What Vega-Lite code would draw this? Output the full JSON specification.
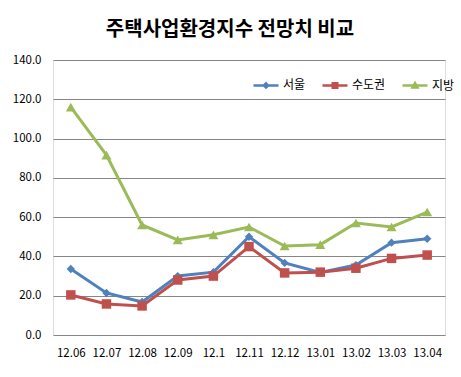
{
  "$schema": "https://vega.github.io/schema/vega-lite/v6.json",
  "autosize": {"type": "none"},
  "width": 392,
  "height": 275,
  "padding": {"left": 53, "top": 60, "right": 16, "bottom": 42},
  "background": "white",
  "title": {
    "text": "주택사업환경지수 전망치 비교",
    "font": "Noto Sans CJK KR",
    "fontSize": 20,
    "fontWeight": "bold",
    "color": "black",
    "anchor": "middle",
    "dx": -19,
    "offset": 14
  },
  "data": {
    "values": [
      {"month": "12.06", "series": "서울", "value": 33.6},
      {"month": "12.07", "series": "서울", "value": 21.4},
      {"month": "12.08", "series": "서울", "value": 16.8},
      {"month": "12.09", "series": "서울", "value": 30.0},
      {"month": "12.1", "series": "서울", "value": 32.0},
      {"month": "12.11", "series": "서울", "value": 50.0},
      {"month": "12.12", "series": "서울", "value": 36.7},
      {"month": "13.01", "series": "서울", "value": 31.8},
      {"month": "13.02", "series": "서울", "value": 35.6},
      {"month": "13.03", "series": "서울", "value": 47.0},
      {"month": "13.04", "series": "서울", "value": 49.0},
      {"month": "12.06", "series": "수도권", "value": 20.4},
      {"month": "12.07", "series": "수도권", "value": 15.8},
      {"month": "12.08", "series": "수도권", "value": 14.8},
      {"month": "12.09", "series": "수도권", "value": 28.0},
      {"month": "12.1", "series": "수도권", "value": 30.0},
      {"month": "12.11", "series": "수도권", "value": 45.0},
      {"month": "12.12", "series": "수도권", "value": 31.6},
      {"month": "13.01", "series": "수도권", "value": 32.0},
      {"month": "13.02", "series": "수도권", "value": 34.0},
      {"month": "13.03", "series": "수도권", "value": 39.0},
      {"month": "13.04", "series": "수도권", "value": 40.7},
      {"month": "12.06", "series": "지방", "value": 116.0},
      {"month": "12.07", "series": "지방", "value": 91.6},
      {"month": "12.08", "series": "지방", "value": 56.0},
      {"month": "12.09", "series": "지방", "value": 48.4},
      {"month": "12.1", "series": "지방", "value": 51.0},
      {"month": "12.11", "series": "지방", "value": 55.0},
      {"month": "12.12", "series": "지방", "value": 45.3},
      {"month": "13.01", "series": "지방", "value": 46.0},
      {"month": "13.02", "series": "지방", "value": 57.0},
      {"month": "13.03", "series": "지방", "value": 55.0},
      {"month": "13.04", "series": "지방", "value": 62.6}
    ]
  },
  "encoding": {
    "x": {
      "field": "month",
      "type": "ordinal",
      "sort": ["12.06","12.07","12.08","12.09","12.1","12.11","12.12","13.01","13.02","13.03","13.04"],
      "scale": {"type": "point", "padding": 0.5},
      "axis": {
        "title": null,
        "labelAngle": 0,
        "domain": false,
        "ticks": false,
        "grid": false,
        "labelPadding": 12,
        "labelFont": "Noto Sans CJK KR",
        "labelFontSize": 11.5,
        "labelColor": "black"
      }
    },
    "y": {
      "field": "value",
      "type": "quantitative",
      "scale": {"domain": [0, 140], "nice": false},
      "axis": {
        "title": null,
        "values": [0, 20, 40, 60, 80, 100, 120, 140],
        "format": ".1f",
        "domain": false,
        "ticks": false,
        "grid": true,
        "gridColor": "#868686",
        "gridWidth": 1,
        "labelPadding": 12,
        "labelFont": "Noto Sans CJK KR",
        "labelFontSize": 11.5,
        "labelColor": "black"
      }
    },
    "color": {
      "field": "series",
      "type": "nominal",
      "scale": {"domain": ["서울", "수도권", "지방"], "range": ["#4F81BD", "#C0504D", "#9BBB59"]},
      "legend": {
        "title": null,
        "orient": "none",
        "direction": "horizontal",
        "legendX": 199,
        "legendY": 11,
        "symbolSize": 625,
        "symbolStrokeWidth": 2.5,
        "labelOffset": 3,
        "columnPadding": 11,
        "labelFont": "Noto Sans CJK KR",
        "labelFontSize": 12,
        "labelColor": "black",
        "encode": {
          "symbols": {
            "update": {
              "shape": {"signal": "datum.value === '서울' ? 'M-1,0H1M0,-0.17L0.17,0L0,0.17L-0.17,0Z' : datum.value === '수도권' ? 'M-1,0H1M-0.18,-0.18H0.18V0.18H-0.18Z' : 'M-1,0H1M0,-0.2L0.2,0.15L-0.2,0.15Z'"},
              "fillOpacity": {"value": 1}
            }
          }
        }
      }
    }
  },
  "layer": [
    {
      "mark": {"type": "line", "strokeWidth": 3}
    },
    {
      "mark": {"type": "point", "filled": true, "opacity": 1},
      "encoding": {
        "shape": {
          "condition": [
            {"test": "datum.series === '서울'", "value": "diamond"},
            {"test": "datum.series === '수도권'", "value": "square"}
          ],
          "value": "triangle-up"
        },
        "size": {
          "condition": [
            {"test": "datum.series === '서울'", "value": 70},
            {"test": "datum.series === '수도권'", "value": 90}
          ],
          "value": 100
        }
      }
    }
  ]
}
